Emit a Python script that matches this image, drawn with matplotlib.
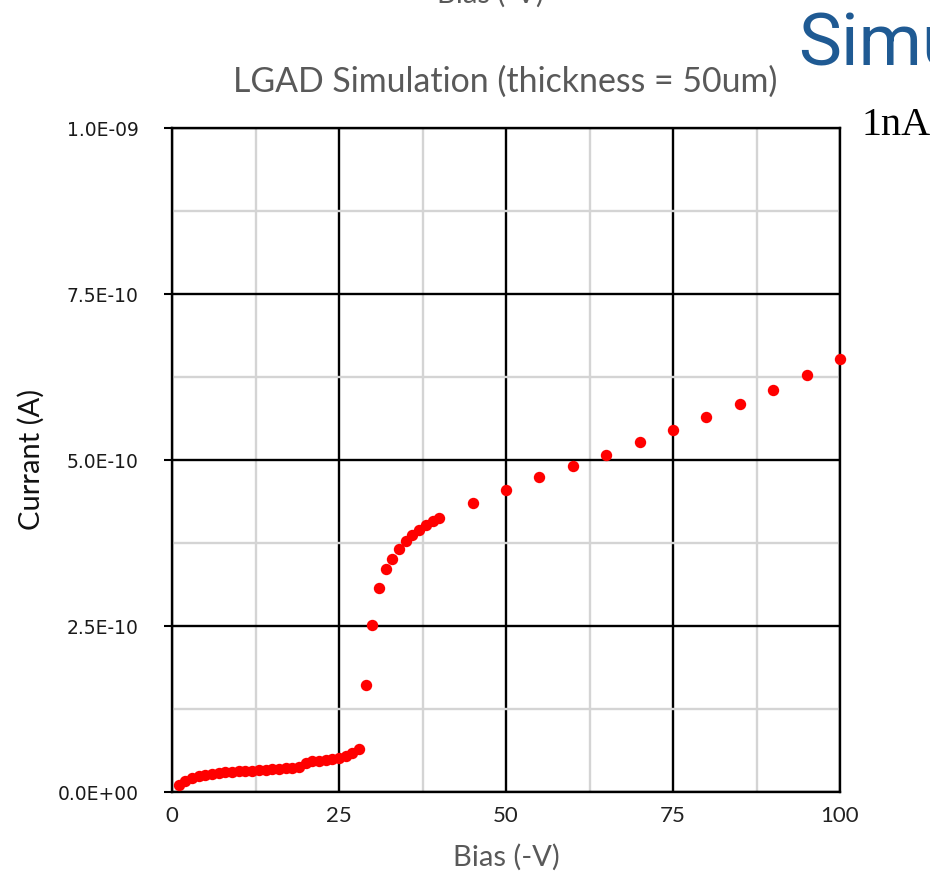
import matplotlib
matplotlib.use("Agg")
import matplotlib.pyplot as plt
from matplotlib.ticker import MultipleLocator

bias_v = list(range(1, 41)) + list(range(45, 101, 5))
current_a = [
    1.05e-11, 1.66e-11, 2.1e-11, 2.4e-11, 2.6e-11, 2.75e-11, 2.85e-11, 2.95e-11, 3.05e-11, 3.1e-11,
    3.15e-11, 3.2e-11, 3.3e-11, 3.35e-11, 3.4e-11, 3.5e-11, 3.55e-11, 3.65e-11, 3.8e-11, 4.4e-11,
    4.6e-11, 4.7e-11, 4.8e-11, 4.95e-11, 5.1e-11, 5.4e-11, 5.8e-11, 6.5e-11, 1.61e-10, 2.51e-10,
    3.07e-10, 3.36e-10, 3.51e-10, 3.66e-10, 3.78e-10, 3.87e-10, 3.95e-10, 4.02e-10, 4.08e-10, 4.13e-10,
    4.35e-10, 4.55e-10, 4.74e-10, 4.91e-10, 5.08e-10, 5.27e-10, 5.45e-10, 5.65e-10, 5.84e-10, 6.05e-10,
    6.28e-10, 6.52e-10,
]
x_ticks = [0, 25, 50, 75, 100]
y_ticks = [0, 2.5e-10, 5.0e-10, 7.5e-10, 1.0e-9]
y_tick_labels = ["0.0E+00", "2.5E-10", "5.0E-10", "7.5E-10", "1.0E-09"]

title = "LGAD Simulation (thickness = 50um)"
x_label = "Bias (-V)"
y_label = "Currant (A)"

W, H = 930, 874
fig = plt.figure(figsize=(W / 100, H / 100), dpi=100)
ax = fig.add_axes([172 / W, (H - 792) / H, (840 - 172) / W, (792 - 128) / H])

ax.set_xlim(0, 100)
ax.set_ylim(0, 1.0e-9)
ax.set_xticks(x_ticks)
ax.set_yticks(y_ticks)
ax.set_yticklabels(y_tick_labels, fontsize=13.5, family="DejaVu Sans", color="#1a1a1a")
ax.xaxis.set_minor_locator(MultipleLocator(12.5))
ax.yaxis.set_minor_locator(MultipleLocator(1.25e-10))

ax.grid(which="minor", color="#d4d4d4", lw=1.7, zorder=0)
ax.grid(which="major", color="black", lw=1.7, zorder=1)
ax.set_axisbelow(True)
for s in ax.spines.values():
    s.set_color("black")
    s.set_linewidth(1.7)

ax.tick_params(axis="y", which="major", direction="out", length=6, width=1.5, pad=18)
ax.tick_params(axis="y", which="minor", length=0)
ax.tick_params(axis="x", which="both", length=0, pad=10)
ax.set_xticklabels([str(v) for v in x_ticks], fontsize=16, family="Lato", color="#222222")

ax.plot(bias_v, current_a, "o", color="#ff0000", markersize=8.2, markeredgewidth=0,
        zorder=3, clip_on=False)

fig.text(505 / W, (H - 82) / H, title, ha="center", va="center",
         fontsize=24.4, color="#595959", family="Lato")
fig.text(506 / W, (H - 857) / H, x_label, ha="center", va="center",
         fontsize=21, color="#595959", family="Lato")
fig.text(31 / W, (H - 459) / H, y_label, ha="center", va="center", rotation=90,
         fontsize=21, color="#111111", family="Lato")

# cropped slide elements
fig.text(490 / W, (H + 6) / H, x_label, ha="center", va="center",
         fontsize=21, color="#595959", family="Lato")
fig.text(798 / W, (H - 65) / H, "Simu", ha="left", va="baseline",
         fontsize=52, color="#1f5a93", family="Roboto")
fig.text(861 / W, (H - 135) / H, "1nA", ha="left", va="baseline",
         fontsize=29, color="black", family="Liberation Serif")

fig.savefig("out.png", dpi=100)
